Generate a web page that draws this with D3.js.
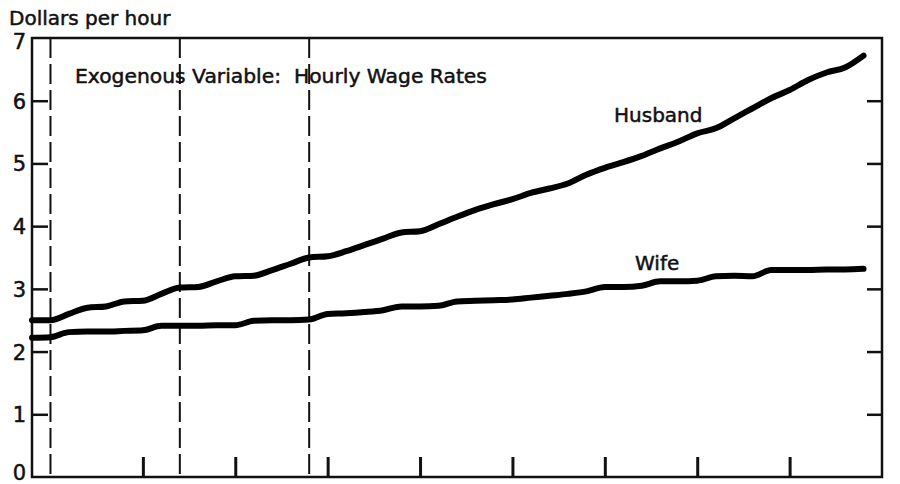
<html lang="en">
<head>
  <title>Hourly Wage Rates</title>
  <meta charset="utf-8">
  <script src="https://d3js.org/d3.v7.min.js"></script>
  <style>
    body { margin: 0; background: #fff; }
    text { font-family: "DejaVu Sans", sans-serif; fill: #111; stroke: #111; stroke-width: 0.5px; }
  </style>
</head>
<body>
  <svg id="canvas"></svg>
</body>
<script>

// ************************************************************************************** //
// Data (years from start, dollars per hour)

var years = d3.range(0, 46);
var husband = [2.5, 2.5, 2.6, 2.7, 2.72, 2.8, 2.81, 2.92, 3.02, 3.03,
               3.12, 3.2, 3.21, 3.3, 3.4, 3.5, 3.52, 3.6, 3.7, 3.8,
               3.9, 3.92, 4.03, 4.15, 4.26, 4.35, 4.43, 4.53, 4.6, 4.68,
               4.82, 4.93, 5.02, 5.12, 5.24, 5.35, 5.48, 5.56, 5.72, 5.88,
               6.04, 6.17, 6.33, 6.45, 6.53, 6.72];
var wife = [2.22, 2.23, 2.31, 2.32, 2.32, 2.33, 2.34, 2.41, 2.41, 2.41,
            2.42, 2.42, 2.49, 2.5, 2.5, 2.51, 2.6, 2.61, 2.63, 2.66,
            2.72, 2.72, 2.73, 2.8, 2.81, 2.82, 2.83, 2.86, 2.89, 2.92,
            2.96, 3.03, 3.03, 3.05, 3.12, 3.12, 3.13, 3.2, 3.21, 3.2,
            3.3, 3.3, 3.3, 3.31, 3.31, 3.32];
var yTicks = [0, 1, 2, 3, 4, 5, 6, 7];
var xTicks = [6, 11, 16, 21, 26, 31, 36, 41];
var dashedYears = [1, 8, 15];

// ************************************************************************************** //
// Setup

var width = 900, height = 484;
var plotLeft = 32, plotRight = 882, plotTop = 38, plotBottom = 477;

var svg = d3.select('#canvas').attr('width', width).attr('height', height);

var x = d3.scaleLinear().domain([0, 46]).range([plotLeft, plotRight]);
var y = d3.scaleLinear().domain([0, 7]).range([plotBottom, plotTop]);

// frame
svg.append('rect')
  .attr('x', plotLeft).attr('y', plotTop)
  .attr('width', plotRight - plotLeft).attr('height', plotBottom - plotTop)
  .attr('fill', 'none').attr('stroke', '#111').attr('stroke-width', 2.5);

// left axis: ticks point inward, labels outside
var yAxisL = d3.axisLeft(y).tickValues(yTicks).tickSize(-16).tickPadding(6).tickFormat(d3.format('d'));
var gL = svg.append('g').attr('transform', 'translate(' + plotLeft + ',0)').call(yAxisL);
gL.select('.domain').remove();
gL.selectAll('line').attr('stroke', '#111').attr('stroke-width', 2.5);
gL.selectAll('text')
  .attr('font-family', '"DejaVu Sans", sans-serif')
  .attr('font-size', 21).attr('fill', '#111')
  .attr('dy', function(d){ return d == 7 ? '0.5em' : d == 0 ? '0.1em' : '0.36em'; });
gL.selectAll('.tick').filter(function(d){ return d == 0 || d == 7; }).select('line').remove();

// right axis: ticks only
var yAxisR = d3.axisRight(y).tickValues([1, 2, 3, 4, 5, 6]).tickSize(-15).tickFormat('');
var gR = svg.append('g').attr('transform', 'translate(' + plotRight + ',0)').call(yAxisR);
gR.select('.domain').remove();
gR.selectAll('line').attr('stroke', '#111').attr('stroke-width', 2.5);

// bottom axis: ticks only
var xAxis = d3.axisBottom(x).tickValues(xTicks).tickSize(-20).tickFormat('');
var gB = svg.append('g').attr('transform', 'translate(0,' + plotBottom + ')').call(xAxis);
gB.select('.domain').remove();
gB.selectAll('line').attr('stroke', '#111').attr('stroke-width', 3);

// dashed period markers
svg.selectAll('.period').data(dashedYears).enter().append('line')
  .attr('class', 'period')
  .attr('x1', function(d){ return x(d); }).attr('x2', function(d){ return x(d); })
  .attr('y1', plotTop).attr('y2', plotBottom)
  .attr('stroke', '#111').attr('stroke-width', 2)
  .attr('stroke-dasharray', '20,6');

// series
var lineGen = d3.line()
  .x(function(d, i){ return x(years[i]); })
  .y(function(d){ return y(d); })
  .curve(d3.curveMonotoneX);

[husband, wife].forEach(function(series){
  svg.append('path').datum(series)
    .attr('d', lineGen)
    .attr('fill', 'none').attr('stroke', '#000')
    .attr('stroke-width', 6).attr('stroke-linejoin', 'round').attr('stroke-linecap', 'round');
});

// texts
svg.append('text').attr('x', 9).attr('y', 25).attr('font-size', 20).text('Dollars per hour');
svg.append('text').attr('x', 75).attr('y', 83).attr('font-size', 20.3)
  .attr('xml:space', 'preserve').text('Exogenous Variable:  Hourly Wage Rates');
svg.append('text').attr('x', 614).attr('y', 122).attr('font-size', 20).text('Husband');
svg.append('text').attr('x', 635).attr('y', 270).attr('font-size', 20).text('Wife');

</script>
</html>
